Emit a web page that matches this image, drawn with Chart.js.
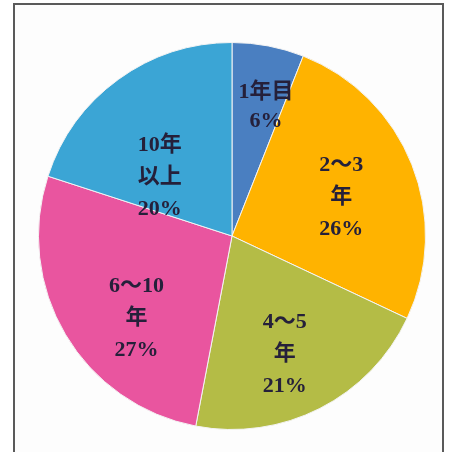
<!DOCTYPE html>
<html>
<head>
<meta charset="utf-8">
<script src="https://cdn.jsdelivr.net/npm/chart.js@4"></script>
<style>
  html, body { margin: 0; padding: 0; background: #fff; }
  body { width: 453px; height: 452px; position: relative; overflow: hidden; }
  #frame {
    position: absolute; left: 13px; top: 3px; width: 427px; height: 470px;
    border: 2px solid #5a5a5a; background: #fdfdfd;
  }
  #pieChart { position: absolute; left: 37px; top: 41px; }
</style>
</head>
<body>
<div id="frame"></div>
<canvas id="pieChart" width="390" height="390"></canvas>
<script>
// categories and shares (%)
const categories = ["1年目", "2～3年", "4～5年", "6～10年", "10年以上"];
const shares = [6, 26, 21, 27, 20];
// label lines as printed inside each slice
const labelLines = [
  ["1年目", "6%"],
  ["2～3", "年", "26%"],
  ["4～5", "年", "21%"],
  ["6～10", "年", "27%"],
  ["10年", "以上", "20%"],
];
const sliceColors = ["#4a7fc1", "#ffb300", "#b4bc46", "#e9559f", "#3ba5d5"];

// where the text sits inside a slice: fraction of radius, angle nudge in degrees
const labelRadius = [0.69, 0.6, 0.67, 0.65, 0.48];
const labelTurn = [4, 2, 3, -10, -15];

const sliceLabels = {
  id: "sliceLabels",
  afterDatasetsDraw(chart) {
    const ctx = chart.ctx;
    const meta = chart.getDatasetMeta(0);
    ctx.save();
    ctx.fillStyle = "#25203a";
    ctx.font = "bold 22px 'Liberation Serif', 'Noto Sans CJK JP', serif";
    ctx.textAlign = "center";
    ctx.textBaseline = "middle";
    meta.data.forEach(function (arc, i) {
      const mid = (arc.startAngle + arc.endAngle) / 2 + labelTurn[i] * Math.PI / 180;
      const r = arc.outerRadius * labelRadius[i];
      const x = arc.x + Math.cos(mid) * r;
      const y = arc.y + Math.sin(mid) * r;
      const lines = labelLines[i];
      const lh = lines.length === 2 ? 29 : 32;
      lines.forEach(function (t, k) {
        ctx.fillText(t, x, y + (k - (lines.length - 1) / 2) * lh);
      });
    });
    ctx.restore();
  },
};

new Chart(document.getElementById("pieChart").getContext("2d"), {
  type: "pie",
  data: {
    labels: categories,
    datasets: [
      {
        data: shares,
        backgroundColor: sliceColors,
        borderColor: "#f3f3f3",
        borderWidth: 1,
      },
    ],
  },
  options: {
    responsive: false,
    animation: false,
    layout: { padding: 1 },
    plugins: {
      legend: { display: false },
      tooltip: { enabled: false },
    },
  },
  plugins: [sliceLabels],
});
</script>
</body>
</html>
